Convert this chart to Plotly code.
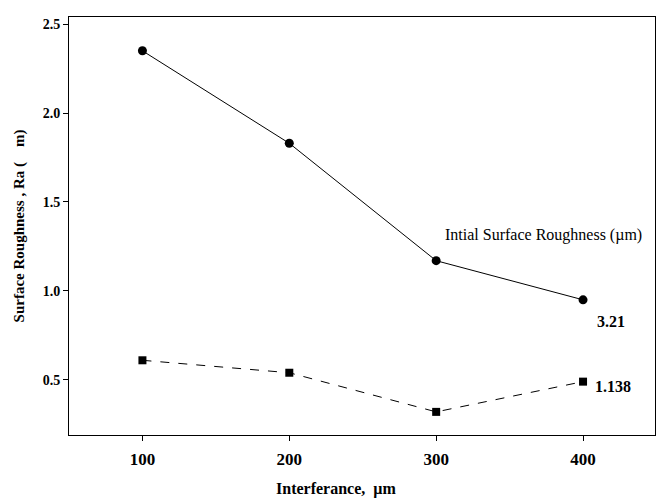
import plotly.graph_objects as go

interference = [100, 200, 300, 400]
ra_321 = [2.35, 1.83, 1.17, 0.95]
ra_1138 = [0.61, 0.54, 0.32, 0.49]
x_ticks = [100, 200, 300, 400]
y_ticks = [0.5, 1.0, 1.5, 2.0, 2.5]

font = "Liberation Serif"

fig = go.Figure()
fig.add_trace(go.Scatter(x=interference, y=ra_321, mode="lines+markers",
                         line=dict(color="black", width=1),
                         marker=dict(symbol="circle", size=9, color="black"),
                         showlegend=False))
fig.add_trace(go.Scatter(x=interference, y=ra_1138, mode="lines+markers",
                         line=dict(color="black", width=1, dash="dash"),
                         marker=dict(symbol="square", size=8, color="black"),
                         showlegend=False))

fig.add_annotation(x=373, y=1.315, text="Intial Surface Roughness (µm)", showarrow=False,
                   xanchor="center", font=dict(family=font, size=16, color="black"))
fig.add_annotation(x=400, y=0.83, text="<b>3.21</b>", showarrow=False,
                   xanchor="left", xshift=12, font=dict(family=font, size=16, color="black"))
fig.add_annotation(x=400, y=0.46, text="<b>1.138</b>", showarrow=False,
                   xanchor="left", xshift=10, font=dict(family=font, size=16, color="black"))
fig.add_annotation(x=0.457, xref="paper", y=-0.13, yref="paper", yanchor="middle",
                   text="<b>Interferance,  µm</b>", showarrow=False,
                   font=dict(family=font, size=16, color="black"))

fig.update_layout(
    width=657, height=498,
    margin=dict(l=69, r=2, t=17, b=63),
    plot_bgcolor="white", paper_bgcolor="white",
    xaxis=dict(range=[50, 449], tickvals=x_ticks, ticktext=[f"<b>{v}</b>" for v in x_ticks],
               ticks="outside", ticklen=5, tickcolor="black", showgrid=False, zeroline=False,
               showline=True, linecolor="black", linewidth=1, mirror=True, ticklabelstandoff=4,
               tickfont=dict(family=font, size=17, color="black")),
    yaxis=dict(range=[0.19, 2.54], tickvals=y_ticks, ticktext=[f"<b>{v:.1f}</b>" for v in y_ticks],
               ticks="outside", ticklen=5, tickcolor="black", showgrid=False, zeroline=False,
               showline=True, linecolor="black", linewidth=1, mirror=True,
               tickfont=dict(family=font, size=14, color="black"),
               title=dict(text="<b>Surface Roughness , Ra (    m)</b>", font=dict(family=font, size=15, color="black"), standoff=14)),
)

fig.write_html("out.html")
